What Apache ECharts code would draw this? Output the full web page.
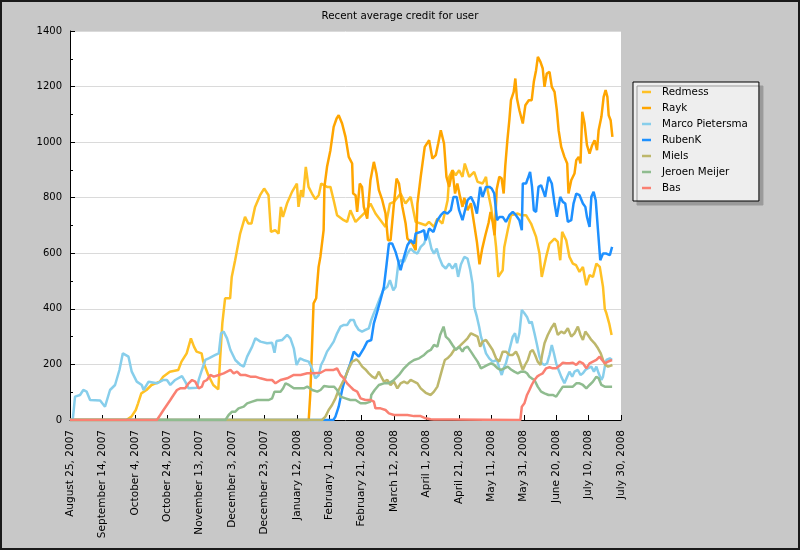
<!DOCTYPE html>
<html><head><meta charset="utf-8">
<script src="https://cdn.jsdelivr.net/npm/echarts@6/dist/echarts.min.js"></script>
<style>html,body{margin:0;padding:0;background:#c8c8c8}#c{width:800px;height:550px}</style>
</head><body><div id="c"></div>
<script>
// x values are days since August 25, 2007
const startDate = Date.UTC(2007, 7, 25);
const chartTitle = 'Recent average credit for user';
const seriesNames = ['Redmess', 'Rayk', 'Marco Pietersma', 'RubenK', 'Miels', 'Jeroen Meijer', 'Bas'];
const seriesColors = ['#FFC125', '#FFA500', '#87CEEB', '#1E90FF', '#BDB76B', '#8FBC8F', '#FA8072'];
const monthNames = ['January','February','March','April','May','June','July','August','September','October','November','December'];

const redmess = [[0,0],[34.8,0],[37.9,12],[40.6,36],[42,60],[44,96],[47.2,108],[50.3,126],[55.4,138],[57.5,156],[61.6,174],[66.8,180],[68.8,210],[72,240],[74.6,294],[76.5,264],[78.1,246],[81.2,240],[82.2,210],[85.3,162],[88.4,126],[91.5,110],[92.6,216],[94,348],[95.7,438],[98.8,438],[99.8,515],[101.9,575],[105,671],[108,731],[110,707],[112,707],[114.2,767],[117.3,809],[119.8,833],[122.5,809],[124,677],[126.6,683],[128.7,671],[130.1,767],[131.4,731],[133.9,779],[137,821],[140,851],[141,767],[142.6,827],[143.8,803],[145.5,911],[147.2,839],[149.3,815],[151.4,795],[153.5,809],[155,851],[158.6,839],[160.7,839],[162.7,791],[164.8,737],[168.9,719],[171,713],[173,755],[176.2,713],[179.3,731],[182.4,749],[185.4,779],[188.5,743],[191.6,719],[194.7,695],[197.4,779],[199.9,785],[204,815],[207,779],[210.2,803],[213.3,713],[216.4,707],[219.5,701],[221.5,713],[224.6,695],[226.7,725],[229.8,707],[233,791],[234,875],[236,899],[238,881],[240.1,899],[242.2,875],[243.6,923],[246.3,875],[249.4,893],[251.5,857],[254.6,851],[256.7,875],[257.7,827],[259.8,767],[261.8,683],[262.9,623],[264.3,515],[267,539],[268,623],[270.1,683],[272.1,737],[276.3,743],[278.3,737],[281.4,737],[284.5,707],[287.6,659],[289.7,599],[291.1,515],[293.8,587],[295.9,635],[299,653],[301,641],[302.5,575],[303.7,677],[306.2,647],[308.2,587],[310.3,563],[312.3,557],[314.4,533],[316.5,551],[318.6,485],[320.6,521],[322.7,515],[324.8,563],[326.9,551],[328.9,479],[330,400],[331,384],[332.7,348],[334.2,306]];

const rayk = [[0,0],[147.3,0],[148.3,96],[150.3,420],[151.9,438],[152.4,479],[153.4,551],[154.5,587],[156.5,683],[157,839],[158.6,911],[160.7,971],[162.7,1055],[164.5,1085],[165.8,1097],[167.9,1067],[170,1019],[172,947],[174.1,923],[174.7,815],[176.2,809],[177.2,749],[178.8,851],[180.2,839],[181.3,767],[183.4,725],[185.4,863],[187.5,929],[189.1,887],[190.6,827],[192.7,791],[194.7,743],[196.2,647],[197.8,647],[199.9,779],[201.5,869],[203,851],[205.1,767],[207.1,707],[208.2,653],[211.3,635],[213.3,611],[214.4,779],[216.4,875],[218.9,983],[221.6,1007],[223.6,941],[225.7,953],[227.2,995],[228.8,1043],[230.8,995],[232.3,875],[234,839],[236,899],[237.6,815],[239,851],[240.7,803],[242.2,767],[243.3,800],[245.3,755],[247.4,780],[249.4,705],[251.1,640],[252.7,560],[254.3,615],[256.3,665],[258.3,710],[259.5,749],[260.8,713],[262,665],[263.3,830],[264.9,875],[266.3,870],[267.6,815],[268.6,915],[269.9,1007],[271.1,1079],[272.1,1151],[273.8,1181],[274.8,1229],[275.8,1157],[277.3,1115],[279.4,1067],[281,1133],[283.1,1151],[284.9,1151],[286.2,1217],[287.6,1259],[288.7,1307],[290.3,1289],[291.7,1265],[292.8,1199],[294.2,1247],[295.9,1253],[297.3,1199],[299,1181],[300.4,1115],[301.5,1043],[303.1,983],[305.1,947],[306.8,923],[307.6,815],[309.3,863],[311.3,887],[312.4,935],[313.9,947],[315,923],[316.1,1109],[317.5,1067],[319,989],[320.6,959],[322.2,989],[323.7,1007],[325.2,971],[326.2,1043],[327.9,1091],[329.3,1163],[330.5,1187],[331.6,1163],[332.4,1097],[333.6,1079],[334.7,1019]];

const marcoPietersma = [[0,0],[1.7,0],[3.1,84],[6.2,90],[8.2,108],[10.3,102],[12.4,72],[18.6,70],[21.6,48],[24.7,108],[27.8,126],[30.5,180],[32.6,240],[36.1,228],[38.1,174],[41.2,138],[44.3,126],[45.4,108],[48.5,138],[53.6,132],[57.7,144],[59.8,144],[61.9,126],[64.9,144],[69.1,158],[71.1,138],[73.2,114],[78.4,116],[79.4,144],[81.4,180],[83.5,216],[85.6,222],[89.7,234],[91.8,240],[93.2,312],[94.8,318],[96.9,294],[99,252],[102,216],[105.2,198],[107.2,192],[109.3,228],[112.4,264],[114.4,294],[117.5,282],[121.6,276],[124.7,278],[126.2,242],[127.4,284],[131,288],[134,306],[136,294],[138.1,258],[139.8,198],[141.9,222],[144,216],[147.3,210],[149.3,186],[151.4,150],[153.5,162],[154.9,198],[156.5,216],[158.6,246],[160.7,264],[162.7,282],[164.8,312],[166.9,336],[169,342],[171,342],[173,360],[175.1,360],[176.2,342],[178.2,324],[180.2,318],[182.3,324],[184.4,330],[185.9,360],[187.5,384],[189.2,408],[191.2,438],[193.3,467],[195.8,479],[197.4,503],[199.5,467],[200.9,479],[202.6,563],[204,575],[206.1,569],[208.2,599],[210.2,617],[212.3,605],[214.4,599],[216.4,623],[218.5,635],[220.6,671],[221.6,653],[223,617],[224.6,599],[226.3,617],[227.7,587],[229.8,557],[231.9,545],[234,563],[236,545],[238.1,563],[239.5,515],[241.2,560],[243.3,587],[245.3,581],[247,539],[248.4,490],[249.4,407],[251.1,371],[252.5,335],[253.6,300],[255.2,270],[256.7,240],[258.7,222],[260.8,210],[263.5,216],[264.9,186],[266.4,162],[267.6,186],[269,204],[271.1,252],[273.2,300],[274.6,312],[275.9,276],[277.3,312],[278.8,396],[280.4,384],[282,371],[283.5,348],[284.9,354],[286.6,312],[288.2,270],[289.7,228],[291.1,204],[292.8,198],[294.4,204],[295.9,234],[297.3,270],[298.6,240],[300,204],[301.5,180],[303.1,156],[305.1,132],[306.8,156],[308.2,174],[309.9,156],[311.3,174],[313.4,180],[315,162],[316.5,168],[318,180],[319.6,186],[321.7,192],[323.3,174],[324.8,192],[326.2,168],[327.9,144],[328.9,156],[330,192],[331,216],[333.1,222],[334.5,216]];

const rubenK = [[0,0],[162.5,0],[163.8,12],[165.8,48],[167.9,108],[170,156],[173,204],[175.1,246],[178.2,228],[181.3,258],[183.4,282],[185.9,288],[187.5,348],[189.6,390],[191.6,432],[193.7,479],[195.4,563],[196.8,635],[198.8,635],[200.9,605],[202.4,575],[204,539],[206.1,587],[208.2,629],[210.2,647],[212.3,635],[213.3,671],[216.4,677],[218.5,683],[219.5,647],[221.6,689],[224.3,677],[226.7,719],[228.8,737],[230.8,749],[232.9,743],[235,755],[236.6,803],[238.6,803],[240.1,755],[242.2,719],[243.3,719],[245.3,791],[247.4,803],[249.4,779],[251.1,743],[253.1,839],[254.6,803],[256.7,839],[258.8,839],[260.2,833],[261.8,815],[263.5,719],[265,731],[267,731],[269,713],[271.1,737],[273.2,749],[275.2,737],[277.3,719],[278.8,683],[279.4,851],[281.4,851],[282.5,869],[283.9,893],[285.1,839],[286.2,755],[287.6,749],[289.1,839],[290.7,845],[292.2,821],[293.2,803],[295.3,875],[297.3,851],[299,779],[300.4,731],[302.5,803],[304.1,785],[305.6,779],[307.2,713],[309.3,719],[310.7,779],[312.4,815],[314.4,809],[316.5,779],[318,767],[319,731],[320.6,695],[321.7,803],[323.1,821],[324.4,791],[325.8,683],[327.2,575],[328.9,599],[331,599],[333.1,593],[334.5,623]];

const miels = [[0,0],[155.5,0],[157.6,12],[159.6,36],[161.7,54],[163.8,78],[165.8,108],[167.9,132],[170,156],[172,186],[174.1,210],[176.8,218],[178.2,210],[180.3,192],[182.3,182],[184.4,168],[186.5,156],[188.5,150],[190.6,174],[192,156],[193.7,138],[195.8,144],[197.8,126],[199.9,138],[202,114],[204,132],[206.1,138],[208.2,132],[210.2,144],[212.3,138],[214.4,132],[216.4,114],[219.5,98],[222.6,90],[224.6,102],[226.7,120],[228.4,156],[229.8,186],[231.3,216],[232.9,222],[235,234],[237,252],[239.1,258],[241.2,270],[243.3,282],[245.3,294],[247.4,312],[249.4,306],[251.5,300],[253.1,264],[254.6,282],[256.7,288],[258.8,270],[260.8,252],[262.9,222],[264.9,210],[267,246],[269,246],[271.1,234],[273.2,234],[275.2,246],[276.7,228],[278.3,198],[279.4,180],[280.8,198],[282.5,216],[284.1,246],[285.5,252],[287,234],[288.6,210],[290.3,198],[291.3,234],[292.8,276],[294.8,306],[296.9,330],[299,348],[301,306],[303.1,318],[305.1,312],[307.2,330],[309.3,300],[311.3,312],[313.4,336],[315,306],[316.5,288],[318,318],[319.6,306],[321.7,288],[323.7,276],[325.8,258],[327.5,240],[328.9,216],[330.4,198],[332,192],[333.4,195],[334.7,198]];

const jeroenMeijer = [[0,0],[95.9,0],[97.9,18],[100,30],[102,30],[104,42],[107.2,48],[109.3,60],[112.4,66],[115.5,72],[122.7,72],[124.7,78],[126.2,102],[129.9,102],[131.5,114],[133,132],[135.1,126],[138.1,114],[144.3,114],[146.4,120],[149.5,108],[152.6,102],[154.6,108],[156.7,122],[159.8,120],[162.9,120],[164.8,108],[166.9,84],[170,78],[173,72],[176.2,72],[179.3,60],[182.3,60],[185.4,66],[185.9,90],[188,108],[190.6,126],[193.7,132],[196.8,132],[199.9,144],[203,162],[206.1,186],[209.2,204],[212.3,216],[215.4,222],[218.5,234],[220.6,246],[222.6,252],[224.6,270],[226.7,264],[228.4,306],[230.5,336],[231.9,300],[234,288],[236,270],[238.1,252],[240.1,264],[242.2,246],[243.3,258],[245.3,264],[247.4,246],[249.4,228],[251.5,210],[253.6,186],[255.7,192],[257.7,198],[259.8,204],[261.8,198],[263.9,186],[265.9,180],[268,186],[270.1,192],[272.1,182],[274.2,174],[276.3,168],[278.3,174],[280.4,174],[282,168],[283.5,156],[284.9,150],[286.6,144],[288.6,120],[290.7,102],[292.8,96],[295.3,90],[297.9,90],[300,84],[302,102],[304.1,120],[310.3,120],[312.4,132],[314.4,132],[316.5,126],[318.6,114],[320.6,126],[322.7,138],[324.8,156],[326.2,150],[327.9,126],[330,120],[334.5,120]];

const bas = [[0,0],[53.6,0],[55.7,18],[57.7,36],[59.8,54],[61.9,72],[63.9,90],[66,108],[68,114],[71.1,114],[73.2,132],[75.3,144],[77.3,138],[79.4,114],[81.4,120],[82.5,138],[84.5,144],[86.6,162],[88.7,156],[91.8,162],[94.8,168],[96.9,174],[99,180],[101,168],[103.1,174],[105.2,162],[108.2,162],[111.3,156],[114.4,156],[117.5,150],[121.6,144],[124.7,144],[126.8,132],[129.9,144],[134,150],[138.1,162],[142.3,162],[146.4,168],[150.5,168],[154.6,170],[157.7,180],[160.8,180],[162.7,180],[164.8,186],[166.9,162],[169,150],[171,132],[173,120],[175.1,108],[177.2,102],[179.3,78],[182.3,72],[185.4,72],[187.5,66],[188.5,42],[191.6,42],[194.7,36],[196.8,24],[199.9,18],[208.2,18],[212.3,14],[216.4,14],[219.5,6],[222.6,3],[224.6,2],[236,2],[237,0],[277.9,0],[278.8,48],[280.4,60],[282,90],[283.5,108],[284.9,126],[286.6,144],[288.2,156],[289.7,162],[291.7,168],[293.8,186],[295.9,190],[297.9,186],[300,186],[302,195],[304.1,206],[306.2,204],[308.2,204],[310.3,206],[312.4,198],[314.4,210],[316.5,204],[318.6,186],[320.6,204],[322.7,210],[324.8,216],[326.8,228],[328.3,216],[330,204],[332,210],[334.5,216]];

const seriesData = [redmess, rayk, marcoPietersma, rubenK, miels, jeroenMeijer, bas];

function dayLabel(d) {
  const dt = new Date(startDate + Math.round(d) * 86400000);
  return monthNames[dt.getUTCMonth()] + ' ' + dt.getUTCDate() + ', ' + dt.getUTCFullYear();
}

const FONT = 'DejaVu Sans';
const chart = echarts.init(document.getElementById('c'), null, {renderer: 'canvas'});
chart.setOption({
  animation: false,
  backgroundColor: '#c8c8c8',
  title: {
    text: chartTitle, left: 'center', top: 6,
    textStyle: {fontFamily: FONT, fontSize: 10.3, fontWeight: 'normal', color: '#000'}
  },
  legend: {
    data: seriesNames, orient: 'vertical', left: 633, top: 82,
    icon: 'rect', itemWidth: 9, itemHeight: 2.5, itemGap: 0,
    padding: [2, 11, 5, 9],
    backgroundColor: '#eeeeee', borderColor: '#000', borderWidth: 1,
    shadowColor: '#9a9a9a', shadowOffsetX: 4, shadowOffsetY: 4, shadowBlur: 0,
    textStyle: {fontFamily: FONT, fontSize: 10.3, color: '#000', lineHeight: 16, padding: [0, 0, 0, 6]}
  },
  grid: {left: 70, right: 179, top: 31, bottom: 130, show: true, backgroundColor: '#ffffff', borderWidth: 0, containLabel: false},
  xAxis: {
    type: 'value', min: 0, max: 340, interval: 20,
    axisLine: {show: true, lineStyle: {color: '#000', width: 1}},
    axisTick: {show: true, inside: true, length: 5, lineStyle: {color: '#000'}},
    axisLabel: {rotate: 90, margin: 10, fontFamily: FONT, fontSize: 10.5, color: '#000', formatter: dayLabel, showMinLabel: true, showMaxLabel: true},
    splitLine: {show: false}
  },
  yAxis: {
    type: 'value', min: 0, max: 1400, interval: 200,
    axisLine: {show: true, lineStyle: {color: '#000', width: 1}},
    axisTick: {show: true, inside: true, length: 5, lineStyle: {color: '#000'}},
    minorTick: {show: true, splitNumber: 2, length: 3, lineStyle: {color: '#000'}},
    axisLabel: {margin: 8, fontFamily: FONT, fontSize: 10, color: '#000', formatter: v => String(v)},
    splitLine: {show: true, lineStyle: {color: '#dadada', width: 1}}
  },
  series: seriesNames.map((name, i) => ({
    name: name, type: 'line', data: seriesData[i],
    showSymbol: false, symbol: 'none',
    color: seriesColors[i],
    itemStyle: {color: seriesColors[i]},
    lineStyle: {color: seriesColors[i], width: 2.5},
    emphasis: {disabled: true}
  })),
  graphic: [{
    type: 'rect', silent: true, z: 100,
    shape: {x: 1, y: 1, width: 798, height: 548},
    style: {fill: null, stroke: '#1a1a1a', lineWidth: 2}
  }]
});
</script>
</body></html>
